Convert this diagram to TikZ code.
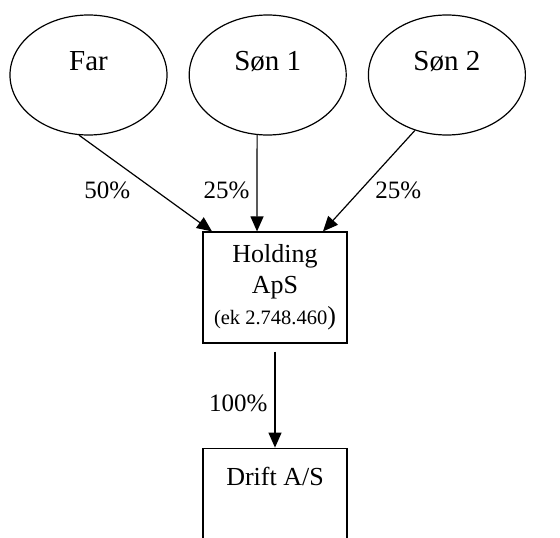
\documentclass[tikz,border=0pt]{standalone}
\usepackage{fontspec}
\setmainfont{Liberation Serif}
\usetikzlibrary{positioning,shapes.geometric,arrows.meta}

\begin{document}
\begin{tikzpicture}[x=1pt,y=-1pt,>={Triangle[length=15pt,width=13pt]},line width=1.2pt,
    font=\fontsize{26}{31}\selectfont,
    owner node/.style={ellipse,draw,minimum width=157pt,minimum height=120pt,inner sep=0pt,
        text height=19pt,text depth=29pt,font=\fontsize{29}{34}\selectfont},
    firm node/.style={rectangle,draw,minimum width=144pt,inner sep=0pt,align=center},
    pct/.style={font=\fontsize{25}{29}\selectfont,inner sep=0pt}]
\useasboundingbox (0,0) rectangle (560,538);
\clip (0,0) rectangle (560,538);

\node[owner node]                 (Far)  at (88.5,75)  {Far};
\node[owner node,right=21pt of Far]  (Son1)            {Søn 1};
\node[owner node,right=21pt of Son1] (Son2)            {Søn 2};
\node[firm node,minimum height=111pt] (Holding) at (275,287.5)
    {Holding\\ApS\\{\fontsize{20.5}{31}\selectfont(ek 2.748.460})};
\node[firm node,below=104pt of Holding,text height=18pt,text depth=100pt,inner ysep=19pt] (Drift) {Drift A/S};

\path[->]
(Far.261)  edge node[pct,pos=0.57,left=24pt]{50\%}  ([xshift=-63pt]Holding.north)
(Son1.260) edge node[pct,pos=0.57,left=7pt]{25\%}   ([xshift=-18pt]Holding.north)
(Son2.240) edge node[pct,pos=0.59,right=14pt]{25\%} ([xshift=48pt]Holding.north)
([yshift=-8pt]Holding.south) edge node[pct,pos=0.54,left=7pt]{100\%} (Drift.north);
\end{tikzpicture}
\end{document}
